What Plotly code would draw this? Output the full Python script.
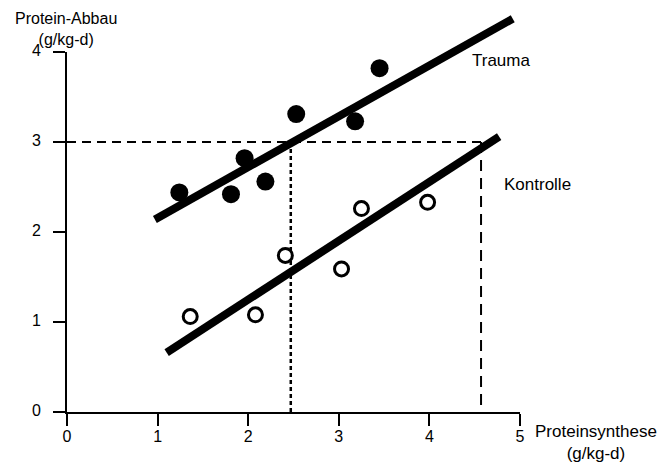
import plotly.graph_objects as go

# ---- data ----
trauma_x = [1.24, 1.81, 1.96, 2.19, 2.53, 3.18, 3.45]
trauma_y = [2.44, 2.42, 2.82, 2.56, 3.31, 3.23, 3.82]
kontrolle_x = [1.36, 2.08, 2.41, 3.03, 3.25, 3.98]
kontrolle_y = [1.06, 1.08, 1.74, 1.59, 2.26, 2.33]

trauma_fit_x = [0.97, 4.92]
trauma_fit_y = [2.14, 4.37]
kontrolle_fit_x = [1.10, 4.77]
kontrolle_fit_y = [0.66, 3.06]

ref_level = 3.0
ref_x_trauma = 2.47
ref_x_kontrolle = 4.57

x_ticks = [0, 1, 2, 3, 4, 5]
y_ticks = [0, 1, 2, 3, 4]
x_title = "Proteinsynthese<br>(g/kg-d)"
y_title = "Protein-Abbau<br>(g/kg-d)"
series_names = ["Trauma", "Kontrolle"]

# ---- geometry (pixels in the 670x464 window) ----
OFF = 8                      # default page margin of the html body
WIN_W, WIN_H = 670, 464
W, H = WIN_W - OFF, WIN_H - OFF
X0PX, X5PX = 67, 520
Y0PX, Y4PX = 412, 52
ux = (X5PX - X0PX) / 5.0
uy = (Y0PX - Y4PX) / 4.0

FONT = "Liberation Sans, Arial, Helvetica, sans-serif"

def px(xp):
    return (xp - OFF) / W

def py(yp):
    return (H - (yp - OFF)) / H

fig = go.Figure()

# reference dashed lines
fig.add_trace(go.Scatter(x=[0, ref_x_kontrolle], y=[ref_level, ref_level], mode="lines",
                         line=dict(color="black", width=2, dash="9px,6px"), hoverinfo="skip"))
fig.add_trace(go.Scatter(x=[ref_x_trauma, ref_x_trauma], y=[ref_level, 0], mode="lines",
                         line=dict(color="black", width=2.5, dash="4px,3px"), hoverinfo="skip"))
fig.add_trace(go.Scatter(x=[ref_x_kontrolle, ref_x_kontrolle], y=[ref_level, 0], mode="lines",
                         line=dict(color="black", width=2, dash="11px,7px"), hoverinfo="skip"))

# regression lines
fig.add_trace(go.Scatter(x=trauma_fit_x, y=trauma_fit_y, mode="lines",
                         line=dict(color="black", width=8), hoverinfo="skip"))
fig.add_trace(go.Scatter(x=kontrolle_fit_x, y=kontrolle_fit_y, mode="lines",
                         line=dict(color="black", width=8), hoverinfo="skip"))

# points
fig.add_trace(go.Scatter(x=trauma_x, y=trauma_y, mode="markers", name=series_names[0],
                         marker=dict(size=18, color="black", line=dict(width=0))))
fig.add_trace(go.Scatter(x=kontrolle_x, y=kontrolle_y, mode="markers", name=series_names[1],
                         marker=dict(size=14, color="white", line=dict(width=3, color="black"))))

# invisible trace for the display axes
fig.add_trace(go.Scatter(x=[x_ticks[0]], y=[y_ticks[0]], xaxis="x2", yaxis="y2", mode="markers",
                         marker=dict(opacity=0), hoverinfo="skip"))

tick_font = dict(size=16, family=FONT, color="black")
fig.update_layout(
    template="none",
    width=W, height=H,
    margin=dict(l=0, r=0, t=0, b=0, pad=0, autoexpand=False),
    paper_bgcolor="white",
    plot_bgcolor="rgba(0,0,0,0)",
    showlegend=False,
    font=dict(family=FONT, color="black"),
    xaxis=dict(domain=[0, 1], range=[(OFF - X0PX) / ux, (WIN_W - X0PX) / ux], visible=False,
               automargin=False, fixedrange=True),
    yaxis=dict(domain=[0, 1], range=[(Y0PX - WIN_H) / uy, (Y0PX - OFF) / uy], visible=False,
               automargin=False, fixedrange=True),
    xaxis2=dict(domain=[px(X0PX), px(X5PX)], range=[0, 5], anchor="y2", automargin=False,
                showline=True, linewidth=2, linecolor="black",
                ticks="outside", ticklen=12, tickwidth=2, tickcolor="black",
                tickvals=x_ticks, ticktext=[str(v) for v in x_ticks],
                tickfont=tick_font, ticklabelstandoff=-3,
                showgrid=False, zeroline=False, fixedrange=True),
    yaxis2=dict(domain=[py(Y0PX), py(Y4PX)], range=[0, 4], anchor="x2", automargin=False,
                showline=True, linewidth=2, linecolor="black",
                ticks="outside", ticklen=12, tickwidth=2, tickcolor="black",
                tickvals=y_ticks, ticktext=[str(v) for v in y_ticks],
                tickfont=tick_font, ticklabelstandoff=9, ticklabelshift=-2,
                showgrid=False, zeroline=False, fixedrange=True),
)

def label(text, xp, yp, size=17, yanchor="middle"):
    fig.add_annotation(text=text, xref="paper", yref="paper", x=px(xp), y=py(yp),
                       showarrow=False, font=dict(size=size, family=FONT, color="black"),
                       align="center", xanchor="center", yanchor=yanchor, borderpad=0)

label(y_title, 66, 8.5, size=16, yanchor="top")
label(x_title, 596, 442)
label(series_names[0], 501, 60)
label(series_names[1], 537, 184)

fig.write_html("out.html")
